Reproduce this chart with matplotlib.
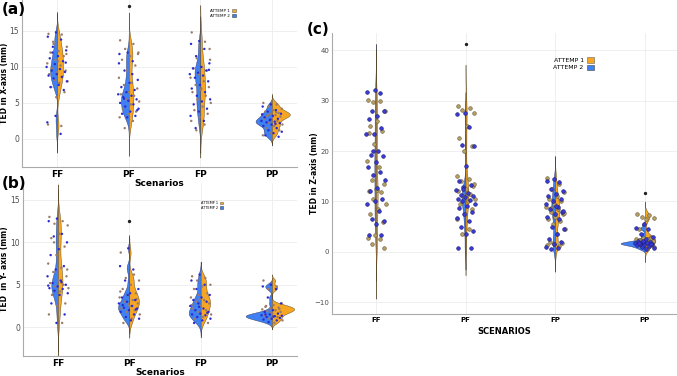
import numpy as np
import matplotlib.pyplot as plt
from matplotlib.patches import Patch

scenarios = ["FF", "PF", "FP", "PP"]

# panel (a): TED in X-axis, attempt 1 / attempt 2 per scenario
a_att1 = [
    [14.6, 14.5, 13.2, 12.8, 12.2, 12.0, 11.5, 11.0, 10.5, 10.2, 9.8, 9.5, 9.3, 9.0, 8.7, 8.2, 8.0, 7.8, 7.2, 6.5, 5.8, 2.0, 1.8, 13.5, 11.8, 10.8],
    [13.7, 13.2, 12.5, 12.0, 11.5, 11.0, 10.2, 9.5, 8.5, 7.8, 7.5, 7.0, 6.5, 6.2, 6.0, 5.5, 5.2, 4.8, 4.2, 3.8, 3.5, 3.0, 2.5, 1.5, 11.8],
    [14.8, 13.5, 11.2, 11.0, 10.0, 9.8, 9.5, 9.0, 8.5, 8.0, 7.5, 7.2, 6.8, 6.5, 6.0, 5.5, 5.0, 4.5, 4.0, 3.5, 3.0, 2.5, 2.0, 1.2, 12.5, 7.0],
    [5.0, 4.8, 4.5, 4.2, 4.0, 3.8, 3.6, 3.5, 3.4, 3.3, 3.2, 3.1, 3.0, 2.8, 2.5, 2.2, 2.0, 1.8, 1.5, 1.2, 0.8, 0.5, 3.7, 3.3],
]
a_att2 = [
    [14.8, 14.2, 13.8, 12.8, 12.3, 11.5, 11.2, 10.8, 10.4, 10.0, 9.7, 9.5, 9.3, 9.0, 8.8, 8.6, 8.4, 8.0, 7.5, 7.2, 6.8, 3.2, 2.3, 0.7, 12.0, 10.6],
    [12.0, 11.8, 10.8, 9.5, 8.2, 7.8, 7.2, 6.8, 6.5, 6.2, 6.0, 5.8, 5.5, 5.3, 5.0, 4.8, 4.5, 4.2, 3.8, 3.5, 3.2, 3.0, 10.5, 9.0, 5.6, 4.0],
    [13.6, 13.2, 12.5, 11.5, 10.5, 10.0, 9.8, 9.5, 9.2, 9.0, 8.8, 8.5, 8.0, 7.5, 7.0, 6.5, 6.0, 5.5, 5.2, 4.8, 4.2, 3.8, 3.2, 2.5, 1.5, 9.6],
    [4.8, 4.5, 4.0, 3.8, 3.5, 3.2, 3.0, 2.8, 2.6, 2.5, 2.4, 2.3, 2.2, 2.0, 1.8, 1.5, 1.2, 1.0, 0.8, 0.5, 0.3, 2.7, 3.4, 2.1],
]
a_outliers = [[], [18.5], [], []]

# panel (b): TED in Y-axis
b_att1 = [
    [13.0, 12.5, 12.2, 12.0, 11.0, 10.5, 9.5, 8.5, 7.5, 7.0, 6.5, 6.0, 5.5, 5.2, 5.0, 4.8, 4.6, 4.2, 3.8, 2.8, 2.5, 1.5, 0.5, 10.0, 6.8],
    [8.8, 6.2, 5.8, 5.5, 5.0, 4.5, 4.0, 3.8, 3.5, 3.2, 3.0, 2.8, 2.5, 2.2, 2.0, 1.8, 1.5, 1.0, 0.5, 3.3, 2.7, 4.2],
    [6.0, 5.8, 5.5, 5.0, 4.8, 4.5, 4.0, 3.8, 3.5, 3.2, 3.0, 2.8, 2.5, 2.2, 2.0, 1.8, 1.5, 1.2, 1.0, 0.5, 3.3, 2.6],
    [5.5, 4.8, 4.5, 2.8, 2.6, 2.4, 2.3, 2.2, 2.1, 2.0, 1.9, 1.8, 1.6, 1.4, 1.2, 1.0, 0.8, 0.5, 2.5, 2.15, 1.7],
]
b_att2 = [
    [12.8, 12.5, 11.0, 10.7, 10.0, 9.2, 8.5, 7.2, 6.8, 6.0, 5.5, 5.2, 5.0, 4.8, 4.6, 4.5, 4.3, 4.0, 3.8, 2.8, 1.5, 0.5, 4.9, 5.3],
    [9.3, 7.2, 6.8, 5.5, 4.5, 4.0, 3.5, 3.2, 3.0, 2.8, 2.5, 2.3, 2.2, 2.0, 1.8, 1.5, 1.2, 1.0, 0.8, 2.6, 2.1, 3.8],
    [6.2, 5.5, 5.0, 4.5, 3.8, 3.5, 3.2, 3.0, 2.8, 2.5, 2.2, 2.0, 1.8, 1.6, 1.5, 1.4, 1.2, 1.0, 0.8, 0.5, 1.7, 2.4],
    [5.0, 4.8, 4.5, 3.5, 2.8, 2.0, 1.8, 1.6, 1.5, 1.4, 1.3, 1.2, 1.1, 1.0, 0.9, 0.8, 0.6, 1.35, 1.25, 1.5],
]
b_outliers = [[], [12.5], [], []]

# panel (c): TED in Z-axis
c_att1 = [
    [30.2, 30.0, 29.8, 28.0, 26.0, 25.0, 24.0, 21.3, 18.0, 16.8, 14.2, 13.5, 12.5, 12.0, 11.8, 10.5, 9.5, 8.5, 7.5, 6.0, 3.3, 2.7, 2.6, 1.6, 0.7, 12.2, 23.5],
    [29.0, 28.5, 28.2, 27.5, 25.0, 22.5, 21.0, 20.0, 15.0, 14.5, 14.0, 13.0, 12.5, 12.0, 11.5, 11.0, 10.5, 10.0, 9.5, 8.5, 7.5, 6.5, 4.5, 3.5, 13.5, 11.3],
    [14.7, 13.5, 12.5, 11.8, 11.0, 10.5, 10.0, 9.5, 9.0, 8.5, 8.0, 7.5, 7.0, 6.5, 6.2, 5.5, 4.5, 3.5, 2.0, 1.7, 1.5, 1.3, 1.2, 8.8, 7.8],
    [7.5, 7.3, 7.0, 6.8, 6.5, 4.5, 3.0, 2.8, 2.6, 2.5, 2.4, 2.2, 2.0, 1.8, 1.5, 1.2, 1.0, 0.5, 2.3, 2.7],
]
c_att2 = [
    [32.2, 31.7, 31.5, 28.0, 28.0, 27.0, 26.4, 24.5, 23.3, 23.3, 20.0, 19.2, 19.0, 17.8, 16.8, 15.8, 15.3, 14.2, 12.6, 12.0, 10.5, 10.0, 9.5, 8.2, 6.5, 6.2, 5.5, 3.4, 3.3, 20.0],
    [27.5, 27.3, 24.7, 21.2, 21.0, 17.0, 14.0, 13.2, 12.8, 12.2, 11.7, 11.3, 11.0, 10.8, 10.5, 10.2, 10.0, 9.5, 9.2, 8.8, 8.0, 7.5, 6.8, 6.2, 5.0, 4.2, 3.5, 0.8, 0.7, 12.5],
    [14.5, 14.0, 13.8, 12.5, 12.0, 11.5, 11.0, 10.5, 10.0, 9.5, 9.0, 8.5, 8.0, 7.5, 7.0, 6.5, 5.0, 4.5, 3.5, 2.5, 2.0, 1.5, 1.0, 0.8, 0.6, 8.2, 9.2],
    [5.5, 4.8, 4.5, 3.5, 3.0, 2.5, 2.2, 2.0, 1.9, 1.8, 1.7, 1.6, 1.5, 1.4, 1.3, 1.2, 1.0, 0.8, 0.5, 1.75, 1.65, 2.1],
]
c_outliers = [[], [41.3], [], [11.7]]

BLUE = "#3f80f2"
ORANGE = "#f6a623"


def kde(vals, adjust=0.75, n=300):
    v = np.asarray(vals, dtype=float)
    sd = v.std(ddof=1)
    q75, q25 = np.percentile(v, [75, 25])
    bw = adjust * 0.9 * min(sd, (q75 - q25) / 1.34) * len(v) ** -0.2
    y = np.linspace(v.min() - 3 * bw, v.max() + 3 * bw, n)
    d = np.exp(-0.5 * ((y[:, None] - v[None, :]) / bw) ** 2).sum(1) / (len(v) * bw * np.sqrt(2 * np.pi))
    return y, d


def jitter(n, w, shift):
    # deterministic spread of point positions around the category centre
    return ((np.arange(n) * 0.618034 + shift) % 1 - 0.5) * 2 * w


def split_violin(ax, att1, att2, outliers, maxw, jw, ps, c1, c2, ec1, ec2):
    curves = [[kde(v) for v in att2], [kde(v) for v in att1]]
    dmax = max(d.max() for side in curves for _, d in side)
    k = maxw / dmax
    for i in range(len(scenarios)):
        x0 = i + 1
        y, d = curves[0][i]
        ax.fill_betweenx(y, x0 - d * k, x0, color=BLUE, ec="#333355", lw=0.3, zorder=2)
        y, d = curves[1][i]
        ax.fill_betweenx(y, x0, x0 + d * k, color=ORANGE, ec="#554422", lw=0.3, zorder=2)
        ax.scatter(x0 + jitter(len(att1[i]), jw, 0.1), att1[i], s=ps, c=c1, edgecolors=ec1,
                   linewidths=0.4, zorder=3)
        ax.scatter(x0 + jitter(len(att2[i]), jw, 0.45), att2[i], s=ps, c=c2, edgecolors=ec2,
                   linewidths=0.4, zorder=3)
        if outliers[i]:
            ax.scatter([x0] * len(outliers[i]), outliers[i], s=2, c="#222222", zorder=3)


def style(ax, yticks, ylim, xlim, tick_fs, xt_fs):
    ax.patch.set_visible(False)
    ax.set_xlim(*xlim)
    ax.set_ylim(*ylim)
    ax.set_xticks(range(1, 5))
    ax.set_xticklabels(scenarios, fontsize=xt_fs, fontweight="bold")
    ax.set_yticks(yticks)
    ax.tick_params(axis="y", labelsize=tick_fs, labelcolor="#4d4d4d", length=0, pad=2)
    ax.tick_params(axis="x", length=0, pad=2)
    ax.grid(True, color="#ececec", lw=0.6, zorder=0)
    ax.set_axisbelow(True)
    for s in ["top", "right"]:
        ax.spines[s].set_visible(False)
    for s in ["left", "bottom"]:
        ax.spines[s].set_color("#aaaaaa")
        ax.spines[s].set_linewidth(0.8)


def legend(ax, loc_xy, fs, hl):
    handles = [Patch(fc=ORANGE, ec="#666666", lw=0.4, label="ATTEMP 1"),
               Patch(fc=BLUE, ec="#444444", lw=0.4, label="ATTEMP 2")]
    ax.legend(handles=handles, loc="center", bbox_to_anchor=loc_xy, fontsize=fs, frameon=False,
              markerfirst=False, handlelength=hl, handleheight=hl, handletextpad=0.6,
              labelspacing=0.2, borderpad=0)


fig = plt.figure(figsize=(6.77, 3.76), dpi=100)
W, H = 677, 376


def add_axes(l, t, r, b):
    return fig.add_axes([l / W, 1 - b / H, (r - l) / W, (b - t) / H])


ax_a = add_axes(22, 0, 297, 167)
split_violin(ax_a, a_att1, a_att2, a_outliers, 0.25, 0.15, 3, "#9a7a6a", "#2a2ad0", "none", "none")
style(ax_a, [0, 5, 10, 15], (-3.9, 19.3), (0.51, 4.35), 5.5, 6.5)
ax_a.set_ylabel("TED in X-axis (mm)", fontsize=5.5, fontweight="bold")
ax_a.yaxis.set_label_coords(-0.049, 0.5)
ax_a.set_xlabel("Scenarios", fontsize=6.5, fontweight="bold")
ax_a.xaxis.set_label_coords(0.5, -0.072)
legend(ax_a, (0.73, 0.92), 3, 0.8)

ax_b = add_axes(23, 183, 297, 356)
split_violin(ax_b, b_att1, b_att2, b_outliers, 0.37, 0.15, 3, "#9a7a6a", "#2a2ad0", "none", "none")
style(ax_b, [0, 5, 10, 15], (-3.4, 17.0), (0.51, 4.35), 5.5, 6.5)
ax_b.set_ylabel("TED  in Y- axis (mm)", fontsize=5.5, fontweight="bold")
ax_b.yaxis.set_label_coords(-0.052, 0.5)
ax_b.set_xlabel("Scenarios", fontsize=6.5, fontweight="bold")
ax_b.xaxis.set_label_coords(0.5, -0.069)
legend(ax_b, (0.69, 0.87), 2.5, 0.8)

ax_c = add_axes(332, 33, 677, 314)
split_violin(ax_c, c_att1, c_att2, c_outliers, 0.27, 0.11, 7, "#b5a05e", "#3a3ad6", "#6a5a40", "#1a1a70")
style(ax_c, [-10, 0, 10, 20, 30, 40], (-12.3, 43.4), (0.51, 4.36), 5, 5)
ax_c.set_ylabel("TED in Z-axis (mm)", fontsize=5.5, fontweight="bold")
ax_c.yaxis.set_label_coords(-0.038, 0.5)
ax_c.set_xlabel("SCENARIOS", fontsize=6, fontweight="bold")
ax_c.xaxis.set_label_coords(0.5, -0.046)
legend(ax_c, (0.70, 0.89), 4.5, 1.0)

fig.text(2 / W, 1 - 9 / H, "(a)", fontsize=11, fontweight="bold", va="center", ha="left")
fig.text(2 / W, 1 - 183 / H, "(b)", fontsize=11, fontweight="bold", va="center", ha="left")
fig.text(307 / W, 1 - 30 / H, "(c)", fontsize=11, fontweight="bold", va="center", ha="left")

fig.savefig("out.png", dpi=100)
